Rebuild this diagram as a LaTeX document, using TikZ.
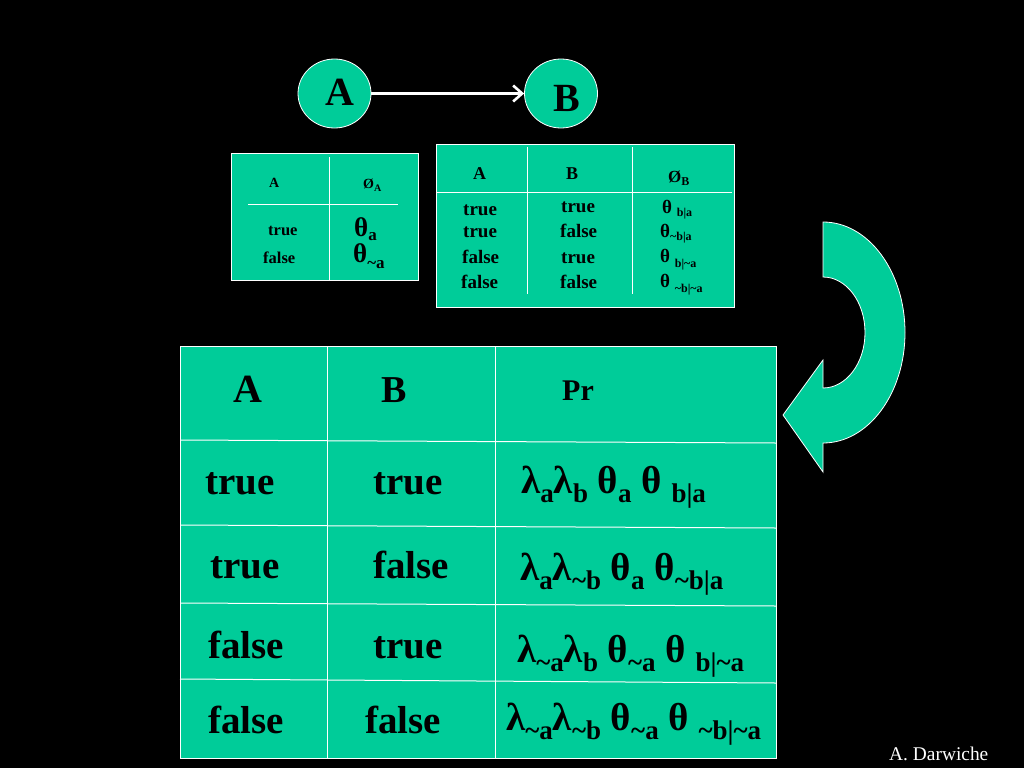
\documentclass[tikz,border=0pt]{standalone}
\usepackage{fontspec}
\setmainfont{Liberation Serif}
\usetikzlibrary{shapes.geometric,arrows.meta}
\definecolor{tg}{HTML}{00CC99}
\newcommand{\fs}[1]{\fontsize{#1}{#1}\selectfont}
\newcommand{\lsub}[3]{\raisebox{-#1pt}{\fs{#2}#3}}
\newcommand{\tl}{\textasciitilde}
\begin{document}
\begin{tikzpicture}[x=1pt,y=-1pt,
  txt/.style={anchor=base west,inner sep=0pt,font=\bfseries},
  wline/.style={draw=white,line width=1pt},
  circ/.style={ellipse,fill=tg,draw=white,line width=0.8pt,minimum width=73pt,minimum height=69pt,inner sep=0pt}]
\fill[black] (0,0) rectangle (1024,768);
\useasboundingbox (0,0) rectangle (1024,768);

% network
\node[circ] (A) at (334.5,93.5) {};
\node[circ] (B) at (561,93.5) {};
\node[font=\bfseries\fs{40},inner sep=0pt] (Alab) at (340,92) {A};
\node[font=\bfseries\fs{40},inner sep=0pt] (Blab) at (567,98) {B};
\draw[white,line width=2.6pt,-{Straight Barb[length=9pt,width=16pt,line width=2.6pt]}] (A.east) -- (B.west);

% left CPT
\draw[fill=tg,wline] (231,153) rectangle (418,280);
\draw[wline] (329,157) -- (329,280);
\draw[wline] (248,204) -- (398,204);
\node[txt,font=\bfseries\fs{14}] (la) at (269,187) {A};
\node[txt,font=\bfseries\fs{14}] (lphi) at (363,188) {Ø\lsub{3}{10}{A}};
\node[txt,font=\bfseries\fs{16.5}] (lt) at (268,235) {true};
\node[txt,font=\bfseries\fs{16.5}] (lf) at (263,263) {false};
\node[txt,font=\bfseries\fs{27}] (lth1) at (354,236) {θ\lsub{4}{17}{a}};
\node[txt,font=\bfseries\fs{27}] (lth2) at (353,262) {θ\lsub{6}{17}{\tl a}};

% right CPT
\draw[fill=tg,wline] (436,144) rectangle (734,307);
\draw[wline] (527,147) -- (527,294);
\draw[wline] (632,147) -- (632,294);
\draw[wline] (436,192) -- (732,192);
\node[txt,font=\bfseries\fs{18}] (ra) at (473,179) {A};
\node[txt,font=\bfseries\fs{18}] (rb) at (566,179) {B};
\node[txt,font=\bfseries\fs{17}] (rphi) at (668,182) {Ø\lsub{3}{12}{B}};
\node[txt,font=\bfseries\fs{19}] (ra1) at (463,215) {true};
\node[txt,font=\bfseries\fs{19}] (ra2) at (463,237) {true};
\node[txt,font=\bfseries\fs{19}] (ra3) at (462,263) {false};
\node[txt,font=\bfseries\fs{19}] (ra4) at (461,288) {false};
\node[txt,font=\bfseries\fs{19}] (rb1) at (561,212) {true};
\node[txt,font=\bfseries\fs{19}] (rb2) at (560,237) {false};
\node[txt,font=\bfseries\fs{19}] (rb3) at (561,263) {true};
\node[txt,font=\bfseries\fs{19}] (rb4) at (560,288) {false};
\node[txt,font=\bfseries\fs{19}] (rt1) at (662,213) {θ \lsub{3}{12}{b|a}};
\node[txt,font=\bfseries\fs{19}] (rt2) at (660,237) {θ\lsub{3}{12}{\tl b|a}};
\node[txt,font=\bfseries\fs{19}] (rt3) at (660,262) {θ \lsub{5}{12}{b|\tl a}};
\node[txt,font=\bfseries\fs{19}] (rt4) at (660,287) {θ \lsub{5}{12}{\tl b|\tl a}};

% curved arrow
\draw[fill=tg,draw=white,line width=0.8pt]
  (823,222) arc[start angle=90,end angle=-90,x radius=82pt,y radius=110.5pt]
  -- (823,472) -- (783,415) -- (823,360) -- (823,388)
  arc[start angle=-90,end angle=90,x radius=42pt,y radius=55.5pt]
  -- cycle;

% joint table
\draw[fill=tg,wline] (180,346) rectangle (776,758);
\draw[wline] (327,346) -- (327,758);
\draw[wline] (495,346) -- (495,758);
\draw[wline] (180,440) -- (776,443);
\draw[wline] (180,525) -- (776,528);
\draw[wline] (180,603) -- (776,606);
\draw[wline] (180,679) -- (776,683);
\node[txt,font=\bfseries\fs{40}] (ja) at (233,402) {A};
\node[txt,font=\bfseries\fs{38}] (jb) at (381,402) {B};
\node[txt,font=\bfseries\fs{30}] (jpr) at (562,400) {Pr};

\node[txt,font=\bfseries\fs{39}] (j1a) at (205,494) {true};
\node[txt,font=\bfseries\fs{39}] (j1b) at (373,494) {true};
\node[txt,font=\bfseries\fs{39}] (j1p) at (521,493) {λ\lsub{9}{27}{a}λ\lsub{9}{27}{b} θ\lsub{9}{27}{a} θ \lsub{9}{27}{b|a}};

\node[txt,font=\bfseries\fs{39}] (j2a) at (210,578) {true};
\node[txt,font=\bfseries\fs{39}] (j2b) at (373,578) {false};
\node[txt,font=\bfseries\fs{39}] (j2p) at (520,580) {λ\lsub{9}{27}{a}λ\lsub{9}{27}{\tl b} θ\lsub{9}{27}{a} θ\lsub{9}{27}{\tl b|a}};

\node[txt,font=\bfseries\fs{39}] (j3a) at (208,658) {false};
\node[txt,font=\bfseries\fs{39}] (j3b) at (373,658) {true};
\node[txt,font=\bfseries\fs{39}] (j3p) at (517,662) {λ\lsub{9}{27}{\tl a}λ\lsub{9}{27}{b} θ\lsub{9}{27}{\tl a} θ \lsub{9}{27}{b|\tl a}};

\node[txt,font=\bfseries\fs{39}] (j4a) at (208,733) {false};
\node[txt,font=\bfseries\fs{39}] (j4b) at (365,733) {false};
\node[txt,font=\bfseries\fs{39}] (j4p) at (506,730) {λ\lsub{9}{27}{\tl a}λ\lsub{9}{27}{\tl b} θ\lsub{9}{27}{\tl a} θ \lsub{9}{27}{\tl b|\tl a}};

\node[anchor=base west,inner sep=0pt,text=white,font=\fs{19.4}] (auth) at (889,760) {A. Darwiche};
\end{tikzpicture}
\end{document}
